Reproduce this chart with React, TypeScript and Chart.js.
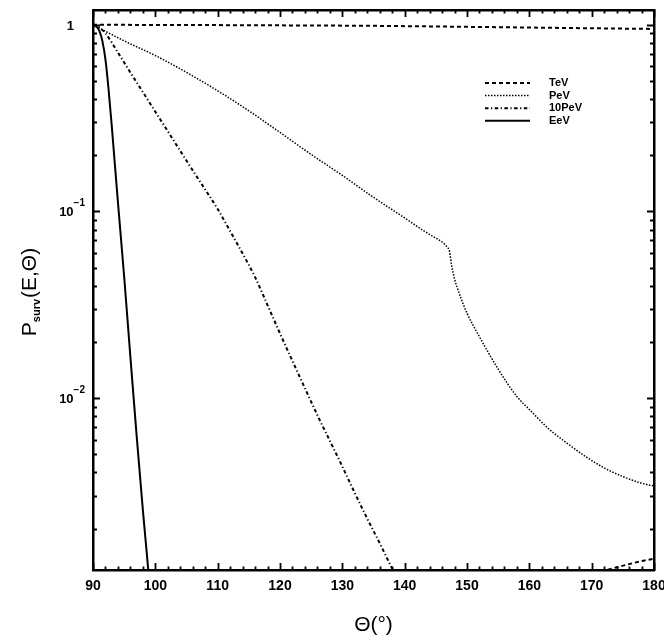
import React, { useEffect, useRef } from "react";
import { Chart, registerables } from "chart.js";

Chart.register(...registerables);

const FONT = "'Liberation Sans', Arial, sans-serif";

// ---- data ----
const tevTheta = [90, 105, 120, 135, 150, 165, 180];
const tevP = [1, 0.997, 0.993, 0.987, 0.975, 0.962, 0.95];

const tevTailTheta = [171.5, 174, 176, 178, 180];
const tevTailP = [0.00118, 0.00124, 0.00129, 0.00134, 0.00138];

const pevTheta = [90, 95, 100, 105, 110, 115, 120, 125, 130, 135, 140, 143, 145, 146, 146.8, 147.2, 147.5, 148, 148.5, 149, 150, 152, 155, 158, 160, 163, 166, 169, 172, 175, 178, 180];
const pevP = [1, 0.82, 0.684, 0.556, 0.443, 0.346, 0.265, 0.202, 0.156, 0.119, 0.0923, 0.079, 0.072, 0.0686, 0.0645, 0.061, 0.052, 0.0435, 0.0385, 0.0345, 0.0285, 0.0213, 0.0143, 0.0102, 0.0087, 0.0069, 0.00575, 0.00487, 0.00423, 0.0038, 0.0035, 0.00338];

const pev10Theta = [90, 91, 92, 94, 96, 98, 100, 102, 104, 106, 108, 110, 112, 114, 116, 118, 120, 122, 124, 126, 128, 130, 132, 134, 136, 138, 139];
const pev10P = [1, 0.965, 0.9, 0.71, 0.555, 0.436, 0.342, 0.269, 0.211, 0.166, 0.131, 0.103, 0.0785, 0.0595, 0.0445, 0.0315, 0.0222, 0.0158, 0.0113, 0.0081, 0.0059, 0.0043, 0.0031, 0.00226, 0.00167, 0.00122, 0.00106];

const eevTheta = [90, 90.5, 91, 91.5, 92, 92.5, 93, 93.5, 94, 95, 96, 97, 98, 99, 99.3];
const eevP = [1, 0.98, 0.93, 0.82, 0.65, 0.45, 0.29, 0.18, 0.112, 0.0447, 0.0166, 0.0063, 0.00251, 0.00107, 0.0008];

const xMin = 90;
const xMax = 180;
const xMajorStep = 10;
const xMinorStep = 2;
const yMin = 0.0012;
const yMax = 1.2;

const yTickValues = [1, 0.1, 0.01];
const yTickBase = ["1", "10", "10"];
const yTickExp = ["", "\u22121", "\u22122"];

const legendLabels = ["TeV", "PeV", "10PeV", "EeV"];
const xTitle = "\u0398(\u00b0)";

const pts = (xs: number[], ys: number[]) => xs.map((x, i) => ({ x, y: ys[i] }));

const DASH_TEV = [4, 3];
const DASH_PEV = [1.5, 1.5];
const DASH_10PEV = [3.5, 2.5, 1.2, 2.5];

const frameTicks = {
  id: "frameTicks",
  afterDatasetsDraw(chart: any) {
    const { ctx, chartArea: a, scales } = chart;
    const xs = scales.x;
    const ys = scales.y;
    ctx.save();
    ctx.strokeStyle = "#000";
    ctx.lineWidth = 1.8;
    ctx.beginPath();
    for (let v = xMin; v <= xMax + 1e-9; v += xMinorStep) {
      const px = Math.round(xs.getPixelForValue(v)) + 0.5;
      const len = Math.abs(v % xMajorStep) < 1e-9 ? 7 : 3.5;
      ctx.moveTo(px, a.bottom);
      ctx.lineTo(px, a.bottom - len);
      ctx.moveTo(px, a.top);
      ctx.lineTo(px, a.top + len);
    }
    for (let d = -3; d <= 0; d++) {
      for (let m = 1; m <= 9; m++) {
        const v = m * Math.pow(10, d);
        if (v < yMin || v > yMax) continue;
        const py = Math.round(ys.getPixelForValue(v)) + 0.5;
        const len = m === 1 ? 7 : 4;
        ctx.moveTo(a.left, py);
        ctx.lineTo(a.left + len, py);
        ctx.moveTo(a.right, py);
        ctx.lineTo(a.right - len, py);
      }
    }
    ctx.stroke();

    // y tick labels with superscripts
    ctx.fillStyle = "#000";
    ctx.textBaseline = "alphabetic";
    yTickValues.forEach((v, i) => {
      const py = ys.getPixelForValue(v);
      const base = yTickBase[i];
      const exp = yTickExp[i];
      if (!exp) {
        ctx.font = `bold 13px ${FONT}`;
        ctx.textAlign = "right";
        ctx.fillText(base, a.left - 19, py + 5);
      } else {
        ctx.font = `bold 10px ${FONT}`;
        ctx.textAlign = "right";
        const ew = ctx.measureText(exp).width;
        ctx.fillText(exp, a.left - 8, py - 5);
        ctx.font = `bold 13px ${FONT}`;
        ctx.fillText(base, a.left - 8 - ew, py + 5);
      }
    });

    // y title with subscript
    const cy = (a.top + a.bottom) / 2 + 2;
    ctx.translate(28, cy);
    ctx.rotate(-Math.PI / 2);
    const big = `21px ${FONT}`;
    const small = `bold 11px ${FONT}`;
    ctx.font = big;
    const wP = ctx.measureText("P").width;
    const wRest = ctx.measureText("(E,\u0398)").width;
    ctx.font = small;
    const wSub = ctx.measureText("surv").width;
    const total = wP + wSub + 1 + wRest;
    let x0 = -total / 2;
    ctx.textAlign = "left";
    ctx.font = big;
    ctx.fillText("P", x0, 7.5);
    x0 += wP;
    ctx.font = small;
    ctx.fillText("surv", x0, 12);
    x0 += wSub + 1;
    ctx.font = big;
    ctx.fillText("(E,\u0398)", x0, 7.5);
    ctx.restore();

    // legend
    ctx.save();
    const styles = [
      { dash: DASH_TEV, w: 2 },
      { dash: DASH_PEV, w: 1.5 },
      { dash: DASH_10PEV, w: 2 },
      { dash: [], w: 2 },
    ];
    legendLabels.forEach((lab, i) => {
      const y = 83 + i * 12.6;
      ctx.beginPath();
      ctx.setLineDash(styles[i].dash);
      ctx.lineWidth = styles[i].w;
      ctx.strokeStyle = "#000";
      ctx.moveTo(485, y);
      ctx.lineTo(530, y);
      ctx.stroke();
      ctx.setLineDash([]);
      ctx.font = `bold 11px ${FONT}`;
      ctx.fillStyle = "#000";
      ctx.textAlign = "left";
      ctx.textBaseline = "middle";
      ctx.fillText(lab, 549, y);
    });
    ctx.restore();
  },
};

export default function App() {
  const ref = useRef<HTMLCanvasElement | null>(null);

  useEffect(() => {
    if (!ref.current) return;
    const line = (label: string, data: any, dash: number[], width: number) => ({
      label,
      data,
      borderColor: "#000",
      backgroundColor: "#000",
      borderWidth: width,
      borderDash: dash,
      pointRadius: 0,
      fill: false,
      cubicInterpolationMode: "monotone" as const,
    });
    const axisBorder = { display: true, color: "#000", width: 2.5 };
    const chart = new Chart(ref.current, {
      type: "line",
      data: {
        datasets: [
          line(legendLabels[0], pts(tevTheta, tevP), DASH_TEV, 2),
          line("", pts(tevTailTheta, tevTailP), DASH_TEV, 2),
          line(legendLabels[1], pts(pevTheta, pevP), DASH_PEV, 1.5),
          line(legendLabels[2], pts(pev10Theta, pev10P), DASH_10PEV, 2),
          line(legendLabels[3], pts(eevTheta, eevP), [], 2),
        ],
      },
      options: {
        animation: false,
        responsive: true,
        maintainAspectRatio: false,
        layout: { padding: 0 },
        plugins: { legend: { display: false }, tooltip: { enabled: false } },
        scales: {
          x: {
            type: "linear",
            position: "bottom",
            min: xMin,
            max: xMax,
            grid: { display: false },
            border: axisBorder,
            ticks: {
              stepSize: xMajorStep,
              padding: 0,
              color: "#000",
              font: { family: FONT, size: 14, weight: "bold" },
              maxRotation: 0,
            },
            title: {
              display: true,
              text: xTitle,
              color: "#000",
              font: { family: FONT, size: 21 },
              padding: { top: 0, bottom: 5 },
            },
            afterFit: (s: any) => {
              s.height = 73;
              s.paddingLeft = 0;
              s.paddingRight = 0;
            },
          },
          xTop: {
            type: "linear",
            position: "top",
            min: xMin,
            max: xMax,
            grid: { display: false },
            border: axisBorder,
            ticks: { display: false },
            afterFit: (s: any) => {
              s.height = 10;
              s.paddingLeft = 0;
              s.paddingRight = 0;
            },
          },
          y: {
            type: "logarithmic",
            position: "left",
            min: yMin,
            max: yMax,
            grid: { display: false },
            border: axisBorder,
            ticks: { display: false },
            afterFit: (s: any) => {
              s.width = 93;
              s.paddingTop = 0;
              s.paddingBottom = 0;
            },
          },
          yRight: {
            type: "logarithmic",
            position: "right",
            min: yMin,
            max: yMax,
            grid: { display: false },
            border: axisBorder,
            ticks: { display: false },
            afterFit: (s: any) => {
              s.width = 10;
              s.paddingTop = 0;
              s.paddingBottom = 0;
            },
          },
        },
      } as any,
      plugins: [frameTicks],
    });
    return () => chart.destroy();
  }, []);

  return (
    <div style={{ position: "absolute", left: 0, top: 0, width: 664, height: 643, background: "#fff" }}>
      <canvas ref={ref} />
    </div>
  );
}
